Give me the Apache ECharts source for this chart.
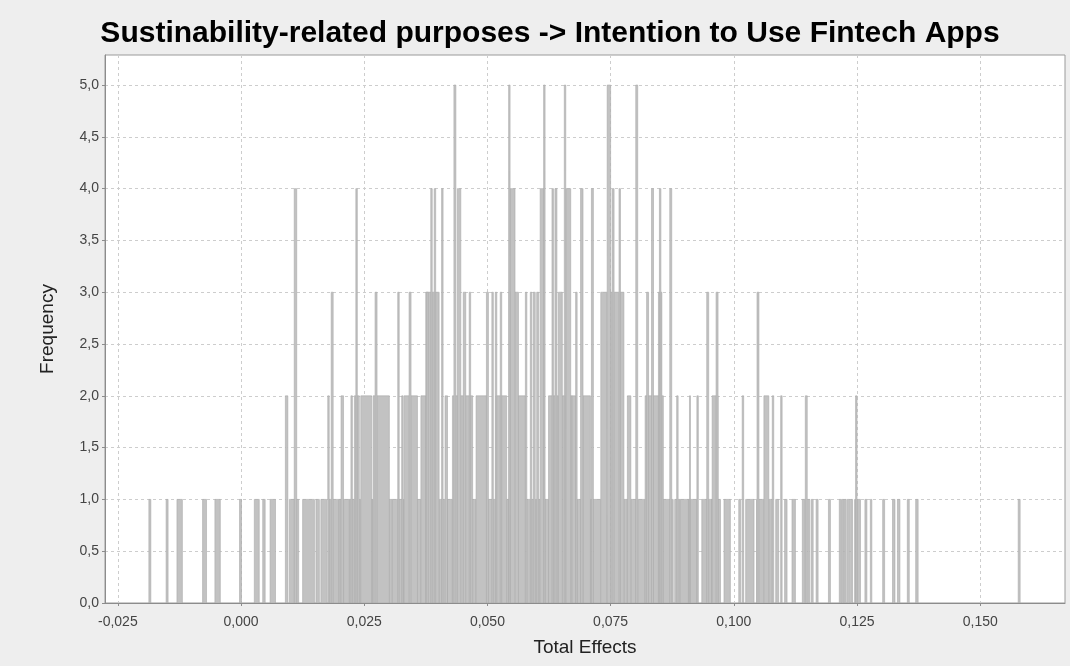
<!DOCTYPE html>
<html>
<head>
<meta charset="utf-8">
<title>Total Effects histogram</title>
<script src="https://cdn.jsdelivr.net/npm/echarts@6/dist/echarts.min.js"></script>
<style>
  html, body { margin: 0; padding: 0; background: #eeeeee; }
  #chart { width: 1070px; height: 666px; }
</style>
</head>
<body>
<div id="chart"></div>
<script>
// Bootstrap distribution of the total effect: each bar covers [binLow, binHigh]
// on the effect scale and reaches binFreq on the frequency scale.
const binLow = [
  -0.0187, -0.0152, -0.0130, -0.0078, -0.0053, -0.0003,
  0.0027, 0.0044, 0.0059, 0.0090, 0.0098, 0.0108, 0.0125, 0.0152, 0.0162, 0.0176,
  0.0179, 0.0183, 0.0199, 0.0203, 0.0208,
  0.0220, 0.0223, 0.0230, 0.0233, 0.0240, 0.0243, 0.0265, 0.0268, 0.0272, 0.0301,
  0.0307, 0.0318, 0.0326, 0.0331, 0.0341, 0.0358, 0.0365, 0.0375, 0.0376,
  0.0385, 0.0392, 0.0402, 0.0407, 0.0414, 0.0419, 0.0429, 0.0432, 0.0439, 0.0451,
  0.0463, 0.0470, 0.0477, 0.0498, 0.0500, 0.0509, 0.0516,
  0.0517, 0.0526, 0.0539, 0.0544, 0.0546, 0.0543, 0.0563, 0.0577, 0.0580, 0.0587,
  0.0593, 0.0600, 0.0607, 0.0614, 0.0617, 0.0624, 0.0631, 0.0637, 0.0644,
  0.0652, 0.0656, 0.0659, 0.0672, 0.0679, 0.0682, 0.0689, 0.0694, 0.0709, 0.0711,
  0.0715, 0.0730, 0.0743, 0.0750, 0.0753, 0.0767, 0.0777, 0.0784, 0.0791, 0.0801,
  0.0805, 0.0820, 0.0823, 0.0833, 0.0847, 0.0849, 0.0857, 0.0870, 0.0880, 0.0884,
  0.0891, 0.0910, 0.0908, 0.0925, 0.0935, 0.0945, 0.0955, 0.0956, 0.0964,
  0.0980, 0.1010, 0.1017, 0.1024, 0.1046, 0.1047, 0.1061, 0.1078, 0.1085, 0.1095,
  0.1103, 0.1118, 0.1139, 0.1145, 0.1150, 0.1157, 0.1167, 0.1192,
  0.1214, 0.1219, 0.1224, 0.1230, 0.1237, 0.1245, 0.1247, 0.1250, 0.1266, 0.1277,
  0.1302, 0.1322, 0.1332, 0.1352, 0.1369, 0.1577
];
const binHigh = [
  -0.0183, -0.0148, -0.0119, -0.0070, -0.0042, 0.0001,
  0.0037, 0.0049, 0.0070, 0.0095, 0.0117, 0.0113, 0.0149, 0.0159, 0.0174, 0.0179,
  0.0199, 0.0187, 0.0203, 0.0208, 0.0220,
  0.0230, 0.0226, 0.0240, 0.0236, 0.0243, 0.0265, 0.0268, 0.0301, 0.0276, 0.0307,
  0.0331, 0.0321, 0.0329, 0.0358, 0.0345, 0.0365, 0.0375, 0.0402, 0.0380,
  0.0388, 0.0395, 0.0419, 0.0410, 0.0419, 0.0429, 0.0470, 0.0436, 0.0446, 0.0456,
  0.0466, 0.0477, 0.0500, 0.0502, 0.0517, 0.0512, 0.0519,
  0.0539, 0.0529, 0.0544, 0.0563, 0.0556, 0.0546, 0.0577, 0.0580, 0.0607, 0.0590,
  0.0597, 0.0604, 0.0614, 0.0617, 0.0624, 0.0644, 0.0634, 0.0641, 0.0652,
  0.0672, 0.0659, 0.0669, 0.0679, 0.0682, 0.0689, 0.0694, 0.0709, 0.0711, 0.0715,
  0.0730, 0.0743, 0.0750, 0.0777, 0.0757, 0.0770, 0.0784, 0.0791, 0.0801, 0.0805,
  0.0820, 0.0857, 0.0827, 0.0837, 0.0854, 0.0852, 0.0877, 0.0874, 0.0891, 0.0887,
  0.0908, 0.0912, 0.0925, 0.0928, 0.0955, 0.0949, 0.0973, 0.0968, 0.0968,
  0.0993, 0.1014, 0.1020, 0.1041, 0.1078, 0.1051, 0.1071, 0.1081, 0.1091, 0.1098,
  0.1108, 0.1125, 0.1145, 0.1149, 0.1154, 0.1161, 0.1171, 0.1196,
  0.1218, 0.1223, 0.1228, 0.1235, 0.1241, 0.1247, 0.1250, 0.1257, 0.1270, 0.1280,
  0.1306, 0.1327, 0.1337, 0.1356, 0.1374, 0.1581
];
const binFreq = [
  1, 1, 1, 1, 1, 1,
  1, 1, 1, 2, 1, 4, 1, 1, 1, 2,
  1, 3, 1, 2, 1,
  1, 2, 2, 4, 1, 2, 1, 2, 3, 1,
  1, 3, 2, 2, 3, 1, 2, 3, 3,
  4, 4, 1, 4, 2, 1, 2, 5, 4, 3,
  3, 1, 2, 3, 1, 3, 3,
  2, 3, 1, 3, 4, 5, 2, 3, 1, 3,
  3, 3, 4, 5, 1, 2, 4, 4, 3,
  2, 5, 4, 2, 3, 1, 4, 2, 1, 4,
  1, 3, 5, 3, 4, 4, 1, 2, 1, 5,
  1, 2, 3, 4, 3, 4, 1, 4, 1, 2,
  1, 2, 1, 2, 1, 3, 1, 2, 3,
  1, 1, 2, 1, 1, 3, 2, 2, 1, 2,
  1, 1, 1, 2, 1, 1, 1, 1,
  1, 1, 1, 1, 1, 1, 2, 1, 1, 1,
  1, 1, 1, 1, 1, 1
];

// Axis tick values and ranges
const xTicks = [-0.025, 0, 0.025, 0.05, 0.075, 0.1, 0.125, 0.15];
const yTicks = [0, 0.5, 1, 1.5, 2, 2.5, 3, 3.5, 4, 4.5, 5];
const xRange = [-0.0276, 0.1672];
const yRange = [0, 5.29];

const chartTitle = 'Sustinability-related purposes -> Intention to Use Fintech Apps';
const xName = 'Total Effects';
const yName = 'Frequency';

// shorter bars first so the taller ones sit on top
const bars = binLow.map((lo, i) => [lo, binHigh[i], binFreq[i]])
  .sort((a, b) => a[2] - b[2]);

const decimalComma = (v, d) => v.toFixed(d).replace('.', ',');

const FONT = 'Liberation Sans';
const gridDash = { color: '#cdcdcd', type: [3, 3], width: 1 };
const axisGrey = '#8c8c8c';

const chart = echarts.init(document.getElementById('chart'), null, { renderer: 'canvas' });

chart.setOption({
  backgroundColor: '#eeeeee',
  animation: false,
  title: {
    text: chartTitle,
    left: 545,
    top: 14,
    textAlign: 'center',
    textStyle: {
      fontFamily: FONT,
      fontWeight: 'bold',
      fontSize: 30,
      color: '#000000'
    }
  },
  grid: {
    left: 105,
    top: 55,
    width: 960,
    height: 548,
    show: true,
    backgroundColor: '#ffffff',
    borderColor: '#9a9a9a',
    borderWidth: 1
  },
  xAxis: {
    type: 'value',
    min: xRange[0],
    max: xRange[1],
    name: xName,
    nameLocation: 'middle',
    nameGap: 35,
    nameTextStyle: { fontFamily: FONT, fontSize: 19, color: '#222' },
    axisLine: { show: true, onZero: false, lineStyle: { color: axisGrey, width: 1 } },
    axisTick: { show: true, length: 3, customValues: xTicks, lineStyle: { color: axisGrey } },
    axisLabel: {
      customValues: xTicks,
      formatter: v => decimalComma(v, 3),
      fontFamily: FONT,
      fontSize: 14,
      color: '#444',
      margin: 12
    },
    splitLine: { show: true, lineStyle: gridDash }
  },
  yAxis: {
    type: 'value',
    min: yRange[0],
    max: yRange[1],
    name: yName,
    nameLocation: 'middle',
    nameGap: 48,
    nameRotate: 90,
    nameTextStyle: { fontFamily: FONT, fontSize: 19, color: '#222' },
    axisLine: { show: true, onZero: false, lineStyle: { color: axisGrey, width: 1 } },
    axisTick: { show: true, length: 3, customValues: yTicks, lineStyle: { color: axisGrey } },
    axisLabel: {
      customValues: yTicks,
      formatter: v => decimalComma(v, 1),
      fontFamily: FONT,
      fontSize: 14,
      color: '#444',
      margin: 6
    },
    splitLine: { show: true, lineStyle: gridDash }
  },
  series: [{
    type: 'custom',
    coordinateSystem: 'cartesian2d',
    encode: { x: [0, 1], y: 2 },
    data: bars,
    clip: true,
    renderItem: function (params, api) {
      const base = api.coord([api.value(0), 0]);
      const top = api.coord([api.value(1), api.value(2)]);
      return {
        type: 'rect',
        shape: {
          x: base[0],
          y: top[1],
          width: Math.max(top[0] - base[0], 1),
          height: base[1] - top[1]
        },
        style: { fill: '#c2c2c2', stroke: '#aaaaaa', lineWidth: 0.6 }
      };
    }
  }]
});
</script>
</body>
</html>
